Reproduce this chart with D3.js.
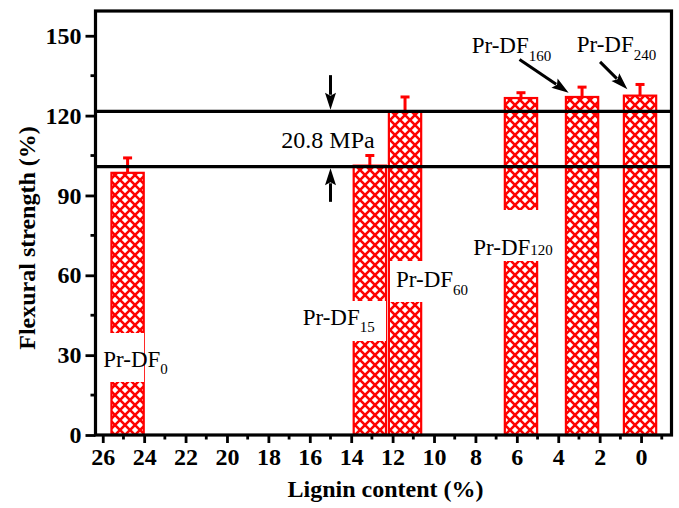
<!DOCTYPE html>
<html>
<head>
<meta charset="utf-8">
<script src="https://cdn.jsdelivr.net/npm/d3@7"></script>
<style>
  body { margin: 0; background: #fff; }
  text { font-family: "Liberation Serif", "Times New Roman", serif; }
</style>
</head>
<body>
<div id="chart"></div>
<script>
// values
const samples = ['0', '15', '60', '120', '160', '240'];
const lignin = [24.8, 13.1, 11.4, 5.8, 2.85, 0.05];
const strength = [98.5, 101.2, 121.5, 126.6, 127.0, 127.5];
const errTop = [104.1, 105.0, 127.0, 128.6, 130.7, 131.7];
const refLines = [121.6, 100.8];
const xTickLabels = [26, 24, 22, 20, 18, 16, 14, 12, 10, 8, 6, 4, 2, 0];
const xMinor = [25, 23, 21, 19, 17, 15, 13, 11, 9, 7, 5, 3, 1, -1];
const yTickLabels = [0, 30, 60, 90, 120, 150];
const yMinor = [15, 45, 75, 105, 135];
const gapLabel = '20.8 MPa';

const W = 679, H = 508;
const pLeft = 95.5, pRight = 671.5, pTop = 11, pBottom = 435;
const barW = 1.56; // bar width in x units

const svg = d3.select('#chart').append('svg')
  .attr('width', W).attr('height', H)
  .style('display', 'block');

const x = d3.scaleLinear().domain([26.35, -1.47]).range([pLeft, pRight]);
const y = d3.scaleLinear().domain([0, 159.3]).range([pBottom, pTop]);

// crosshatch fill
const defs = svg.append('defs');
const pat = defs.append('pattern')
  .attr('id', 'hatch')
  .attr('patternUnits', 'userSpaceOnUse')
  .attr('width', 10).attr('height', 10);
pat.append('rect').attr('width', 10).attr('height', 10).attr('fill', '#fff');
pat.append('path')
  .attr('d', 'M-2,-2L12,12M12,-2L-2,12')
  .attr('stroke', '#ff0000')
  .attr('stroke-width', 2.6);

// bars
const data = lignin.map((d, i) => ({ x: d, v: strength[i], e: errTop[i], name: samples[i] }));

svg.append('g')
  .selectAll('rect')
  .data(data)
  .join('rect')
  .attr('x', d => x(d.x + barW / 2))
  .attr('width', d => x(d.x - barW / 2) - x(d.x + barW / 2))
  .attr('y', d => y(d.v))
  .attr('height', d => y(0) - y(d.v))
  .attr('fill', 'url(#hatch)')
  .attr('stroke', '#ff0000')
  .attr('stroke-width', 2.2);

// error bars (upper only)
const eb = svg.append('g').attr('stroke', '#ff0000').attr('stroke-width', 3);
eb.selectAll('line.stem')
  .data(data)
  .join('line')
  .attr('class', 'stem')
  .attr('x1', d => x(d.x)).attr('x2', d => x(d.x))
  .attr('y1', d => y(d.v)).attr('y2', d => y(d.e));
eb.selectAll('line.cap')
  .data(data)
  .join('line')
  .attr('class', 'cap')
  .attr('x1', d => x(d.x) - 4.5).attr('x2', d => x(d.x) + 4.5)
  .attr('y1', d => y(d.e)).attr('y2', d => y(d.e));

// reference lines
svg.append('g')
  .selectAll('line')
  .data(refLines)
  .join('line')
  .attr('x1', pLeft).attr('x2', pRight)
  .attr('y1', d => y(d)).attr('y2', d => y(d))
  .attr('stroke', '#000')
  .attr('stroke-width', 3.2);

// label boxes + labels
const labelLayout = [
  { tx: 103.3, ty: 366.7, box: [103, 333, 144, 382], sub: 7 },
  { tx: 302.7, ty: 325, box: [300, 301, 386, 341], sub: 7 },
  { tx: 396, ty: 286.7, box: [390, 261, 480, 302], sub: 8 },
  { tx: 473.3, ty: 255, box: [470, 210, 560, 261], sub: 0 },
  { tx: 471.7, ty: 53.3, box: null, sub: 8 },
  { tx: 576.7, ty: 51.7, box: null, sub: 8 }
];

const lbl = svg.append('g');
data.forEach((d, i) => {
  const L = labelLayout[i];
  if (L.box) {
    lbl.append('rect')
      .attr('x', L.box[0]).attr('y', L.box[1])
      .attr('width', L.box[2] - L.box[0]).attr('height', L.box[3] - L.box[1])
      .attr('fill', '#fff');
  }
  const t = lbl.append('text')
    .attr('x', L.tx).attr('y', L.ty)
    .attr('font-size', 23)
    .attr('fill', '#000');
  t.append('tspan').text('Pr-DF');
  t.append('tspan').attr('dy', L.sub).attr('font-size', 15).text(d.name);
});

// arrows (data coordinates)
const arrows = [
  { from: [15, 135.2], to: [15, refLines[0]], off: -1.6 },
  { from: [15, 87.6], to: [15, refLines[1]], off: 1.6 },
  { from: [5.87, 141.1], to: [3.5, 128.6], off: 0 },
  { from: [1.98, 140.2], to: [0.66, 129.9], off: 0 }
];

const ag = svg.append('g');
arrows.forEach(a => {
  const x1 = x(a.from[0]), y1 = y(a.from[1]);
  const x2 = x(a.to[0]), y2 = y(a.to[1]) + a.off;
  const len = Math.hypot(x2 - x1, y2 - y1);
  const ux = (x2 - x1) / len, uy = (y2 - y1) / len;
  const hl = 17, hw = 5.5;
  const bx = x2 - ux * hl, by = y2 - uy * hl;
  ag.append('line')
    .attr('x1', x1).attr('y1', y1)
    .attr('x2', bx + ux * 2).attr('y2', by + uy * 2)
    .attr('stroke', '#000').attr('stroke-width', 3);
  ag.append('path')
    .attr('d', d3.line()([[x2, y2], [bx - uy * hw, by + ux * hw], [bx + ux * 3, by + uy * 3], [bx + uy * hw, by - ux * hw]]) + 'Z')
    .attr('fill', '#000');
});

svg.append('text')
  .attr('x', 328).attr('y', 148)
  .attr('text-anchor', 'middle')
  .attr('font-size', 24)
  .text(gapLabel);

// axes
const xAxis = svg.append('g')
  .attr('transform', `translate(0,${pBottom})`)
  .call(d3.axisBottom(x).tickValues(xTickLabels).tickSize(8).tickSizeOuter(0).tickPadding(5).tickFormat(d3.format('d')));
xAxis.call(g => g.select('.domain').remove());
xAxis.selectAll('.tick line').attr('stroke-width', 2.8);
xAxis.selectAll('.tick text')
  .attr('font-size', 24).attr('font-weight', 'bold')
  .attr('font-family', '"Liberation Serif", "Times New Roman", serif');

svg.append('g')
  .selectAll('line')
  .data(xMinor)
  .join('line')
  .attr('x1', d => x(d)).attr('x2', d => x(d))
  .attr('y1', pBottom).attr('y2', pBottom + 4.5)
  .attr('stroke', '#000').attr('stroke-width', 2.8);

const yAxis = svg.append('g')
  .attr('transform', `translate(${pLeft},0)`)
  .call(d3.axisLeft(y).tickValues(yTickLabels).tickSize(10).tickSizeOuter(0).tickPadding(4).tickFormat(d3.format('d')));
yAxis.call(g => g.select('.domain').remove());
yAxis.selectAll('.tick line').attr('stroke-width', 2.8);
yAxis.selectAll('.tick text')
  .attr('font-size', 24).attr('font-weight', 'bold')
  .attr('font-family', '"Liberation Serif", "Times New Roman", serif');

svg.append('g')
  .selectAll('line')
  .data(yMinor)
  .join('line')
  .attr('x1', pLeft - 5).attr('x2', pLeft)
  .attr('y1', d => y(d)).attr('y2', d => y(d))
  .attr('stroke', '#000').attr('stroke-width', 2.8);

// frame
svg.append('rect')
  .attr('x', pLeft).attr('y', pTop)
  .attr('width', pRight - pLeft).attr('height', pBottom - pTop)
  .attr('fill', 'none')
  .attr('stroke', '#000')
  .attr('stroke-width', 3.2);

// axis titles
svg.append('text')
  .attr('x', (pLeft + pRight) / 2 + 2).attr('y', 497)
  .attr('text-anchor', 'middle')
  .attr('font-size', 24).attr('font-weight', 'bold')
  .text('Lignin content (%)');

svg.append('text')
  .attr('transform', `translate(35,${238}) rotate(-90)`)
  .attr('text-anchor', 'middle')
  .attr('font-size', 24).attr('font-weight', 'bold')
  .text('Flexural strength (%)');
</script>
</body>
</html>
